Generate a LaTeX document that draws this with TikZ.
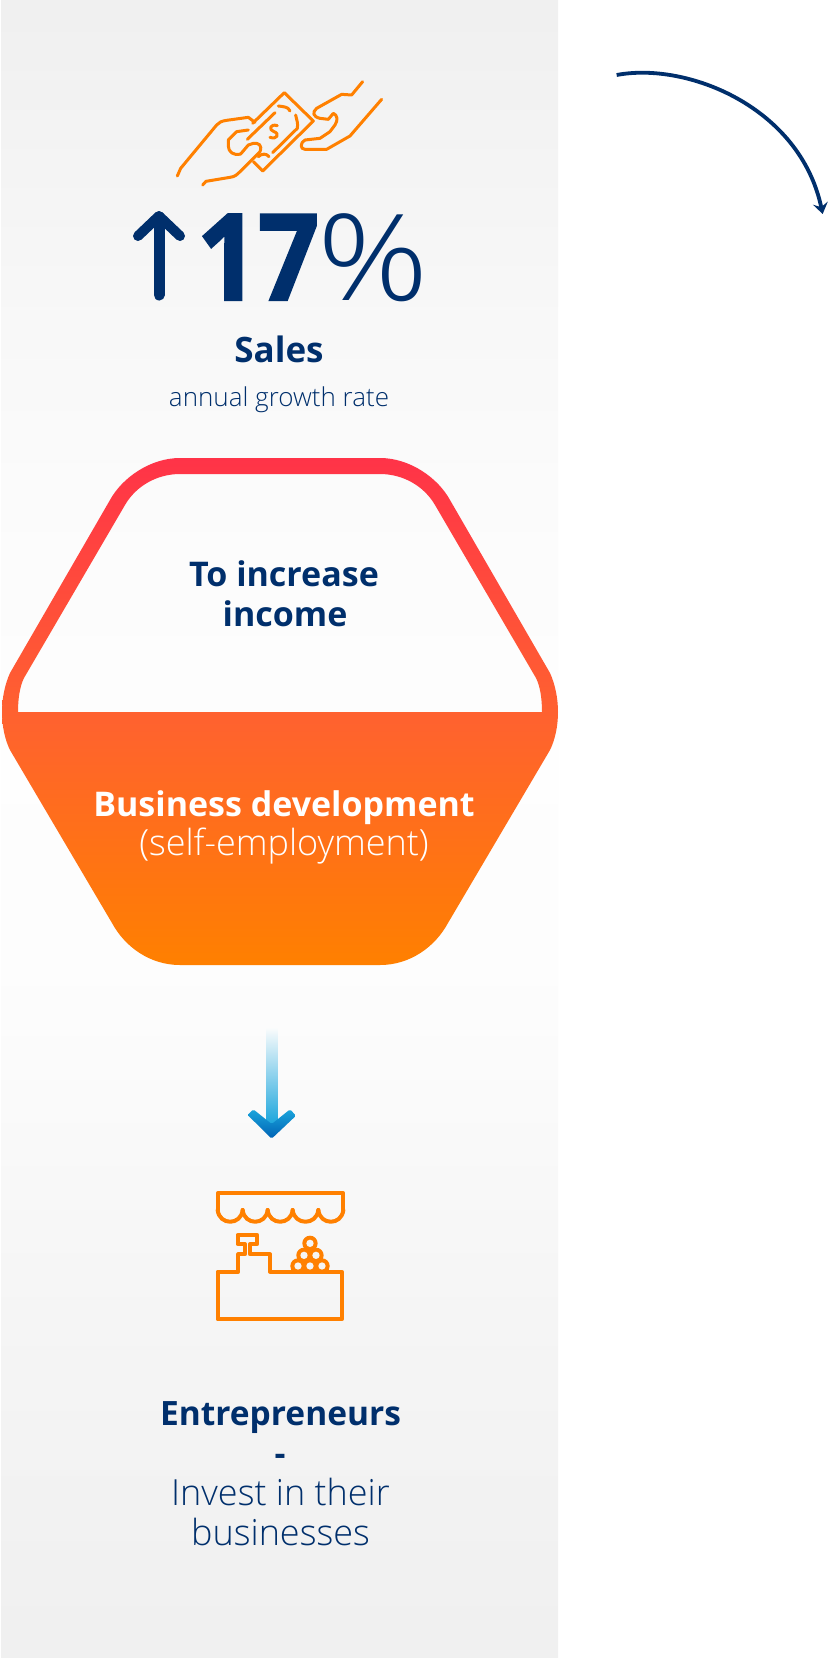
\documentclass[tikz,border=0pt]{standalone}
\usepackage{fontspec}
\setmainfont{Open Sans}
\usetikzlibrary{arrows.meta}
\newfontfamily\lightfont{Open Sans Light}
\definecolor{navy}{HTML}{002F6C}
\definecolor{iconorange}{HTML}{FF8000}
\definecolor{hextop}{HTML}{FF3348}
\definecolor{hexmid}{HTML}{FF6130}
\definecolor{arrowblue}{HTML}{1AA5DC}
\definecolor{arrowdark}{HTML}{0062B4}
\pgfdeclareverticalshading{panelshade}{100bp}{
    color(0bp)=(black!6); color(25bp)=(black!6); color(35bp)=(black!4); color(45bp)=(black!1); color(52bp)=(black!0.5); color(60bp)=(black!1.5); color(66bp)=(black!3); color(75bp)=(black!6); color(100bp)=(black!6)}
\tikzset{
    txt/.style={text=navy,inner sep=0pt,anchor=base,align=center},
    titletxt/.style={txt,font=\fontsize{34}{34}\selectfont\bfseries},
    plaintxt/.style={txt,font=\fontsize{36}{36}\lightfont},
    icon/.style={draw=iconorange,line width=#1,line join=round,line cap=round},
    icon/.default=3pt
}
\begin{document}
\begin{tikzpicture}[x=1pt,y=-1pt]
    \useasboundingbox (0,0) rectangle (834,1658);
    \fill[white] (0,0) rectangle (834,1658);
    \path[shading=panelshade] (1,0) rectangle (558,1658);
    % curved arrow
    \coordinate (c1) at ({580+110/3},{50+75/3});
    \coordinate (c2) at ({580+728/3},{50+492/3});
    \draw[navy,line width=3.8pt,-{Stealth[length=11pt,width=15pt,inset=4pt]}] (c1) .. controls ({580+320/3},{50+35/3}) and ({580+660/3},{50+170/3}) .. (c2);
    % hands with the note
    \begin{scope}[shift={(120,60)},x=0.3333pt,y=-0.3333pt,icon]
    \draw (172,348) -- (182,325) -- (290,195) .. controls (297,187) and (305,183) .. (320,181) -- (385,172) -- (405,187);
    \draw (248,375) -- (258,364) -- (330,352) .. controls (345,350) and (350,345) .. (360,335) -- (420,275) .. controls (428,255) and (415,248) .. (400,250) -- (385,255) -- (362,282) .. controls (340,288) and (325,275) .. (325,258) -- (325,240) -- (350,215) -- (385,210);
    \draw (728,65) -- (695,105) -- (665,103) -- (590,145) .. controls (575,158) and (580,170) .. (600,175) -- (625,178) -- (640,160) .. controls (652,165) and (655,180) .. (645,195) -- (630,215) -- (600,235) -- (555,240) .. controls (540,248) and (540,268) .. (555,268) -- (620,268) -- (690,228) -- (785,118);
    \draw (398,190) -- (493,98) -- (580,183) -- (428,333) -- (400,305);
    \draw (382,238) -- (465,158);
    \draw (458,278) -- (532,205) .. controls (535,190) and (530,180) .. (527,165);
    \draw (475,138) .. controls (490,140) and (505,140) .. (510,153);
    \draw (415,290) .. controls (425,280) and (440,280) .. (447,290);
    \draw (472,197) .. controls (450,190) and (445,210) .. (462,215) .. controls (480,220) and (472,240) .. (450,232);
    \end{scope}
    % up arrow and number
    \draw[navy,line width=11pt,line cap=round,line join=round] (159,295) -- (159,217);
    \draw[navy,line width=10pt,line cap=round,line join=round] (138,236) -- (159,216) -- (180,236);
    \node[txt,anchor=base west,font=\fontsize{120}{120}\selectfont\bfseries\addfontfeatures{FakeBold=2},xscale=0.89,transform shape] (num) at (197,300) {17};
    \node[txt,anchor=base west,font=\fontsize{120}{120}\lightfont,xscale=1.15,transform shape] (pct) at (317,300) {\%};
    \node[txt,font=\fontsize{35}{35}\selectfont\bfseries] (sales) at (279,362) {Sales};
    \node[txt,font=\fontsize{26}{26}\lightfont] (rate) at (279,406) {annual growth rate};
    % hexagon
    \path[even odd rule,top color=hextop,bottom color=iconorange,middle color=hexmid]
        (180,458) -- (380,458) .. controls (410,458) and (438,478) .. (450,500) -- (550,673) .. controls (555,684) and (558,698) .. (558,712) .. controls (558,726) and (555,740) .. (550,750) -- (448,923) .. controls (435,947) and (410,965) .. (380,965) -- (180,965) .. controls (150,965) and (125,947) .. (112,923) -- (10,750) .. controls (5,740) and (2,726) .. (2,712) .. controls (2,698) and (5,684) .. (10,673) -- (110,500) .. controls (122,478) and (150,458) .. (180,458) -- cycle
        (180,474) -- (380,474) .. controls (403,474) and (424,486) .. (435,505) -- (536,678) .. controls (540,686) and (542,698) .. (542,712) -- (18,712) .. controls (18,698) and (20,686) .. (24,678) -- (125,505) .. controls (136,486) and (157,474) .. (180,474) -- cycle;
    \node[titletxt] (goal1) at (284,586.5) {To increase};
    \node[titletxt] (goal2) at (285,626) {income};
    \node[titletxt,text=white] (dev1) at (284,816) {Business development};
    \node[plaintxt,text=white] (dev2) at (284,855.5) {(self-employment)};
    % down arrow
    \path[top color=black!1,middle color=arrowblue!35!white,bottom color=arrowblue] (266.5,1027) rectangle (277.5,1125);
    \path[top color=arrowblue,bottom color=arrowdark,rounded corners=1.5pt] ({190+173/3},{1020+285/3}) -- ({190+190/3},{1020+268/3}) -- ({190+245/3},{1020+312/3}) -- ({190+300/3},{1020+268/3}) -- ({190+318/3},{1020+287/3}) -- ({190+245/3},{1020+356/3}) -- cycle;
    % market stall
    \begin{scope}[shift={(190,1020)},x=0.3333pt,y=-0.3333pt,icon=4pt]
    \draw (83,570) -- (83,520) -- (460,520) -- (460,570);
    \foreach \a/\b in {83/158,158/233,233/308,308/385,385/460}{
    \draw (\a,570) .. controls (\a+5,617) and (\b-5,617) .. (\b,570);}
    \draw (143,645) -- (202,645) -- (202,672) -- (180,672) -- (180,703) -- (240,703) -- (240,755) -- (455,755) -- (455,898) -- (83,898) -- (83,755) -- (145,755) -- (145,703) -- (165,703) -- (165,672) -- (143,672) -- cycle;
    \foreach \a/\b in {360/670,342/706,378/706,324/738,360/738,396/738}{
    \fill[iconorange] (\a,\b) circle (23);}
    \fill[iconorange] (303,755) rectangle (417,740);
    \foreach \a/\b in {360/670,342/706,378/706,324/738,360/738,396/738}{
    \fill[white!96!black] (\a,\b) circle (11);}
    \end{scope}
    % closing text
    \node[titletxt,font=\fontsize{33.5}{33.5}\selectfont\bfseries] (ent) at (280.5,1425.5) {Entrepreneurs};
    \node[titletxt] (dash) at (280,1465) {-};
    \node[plaintxt] (inv1) at (280.5,1505) {Invest in their};
    \node[plaintxt] (inv2) at (280.5,1545) {businesses};
\end{tikzpicture}
\end{document}
